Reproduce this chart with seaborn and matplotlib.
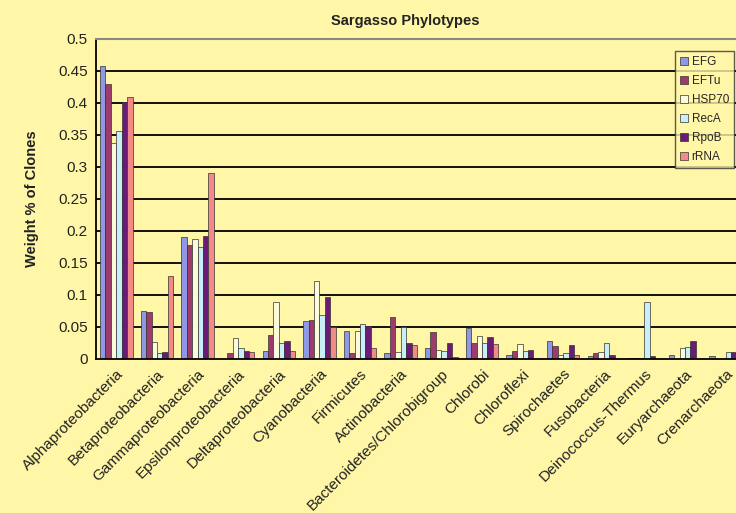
import matplotlib
matplotlib.use("Agg")
import matplotlib.pyplot as plt
import numpy as np
import pandas as pd
import seaborn as sns

# values (fraction of clones)
phyla = ["Alphaproteobacteria", "Betaproteobacteria", "Gammaproteobacteria",
         "Epsilonproteobacteria", "Deltaproteobacteria", "Cyanobacteria",
         "Firmicutes", "Actinobacteria", "Bacteroidetes/Chlorobigroup",
         "Chlorobi", "Chloroflexi", "Spirochaetes", "Fusobacteria",
         "Deinococcus-Thermus", "Euryarchaeota", "Crenarchaeota"]
genes = ["EFG", "EFTu", "HSP70", "RecA", "RpoB", "rRNA"]

EFG = [0.458, 0.075, 0.190, 0.0, 0.012, 0.059, 0.043, 0.008,
       0.017, 0.048, 0.0055, 0.027, 0.004, 0.001, 0.0055, 0.004]
EFTu = [0.430, 0.073, 0.178, 0.0085, 0.037, 0.061, 0.008, 0.065,
        0.041, 0.025, 0.012, 0.0195, 0.008, 0.001, 0.0, 0.0]
HSP70 = [0.337, 0.026, 0.187, 0.032, 0.089, 0.122, 0.043, 0.010,
         0.014, 0.0355, 0.022, 0.0055, 0.0106, 0.001, 0.017, 0.0]
RecA = [0.356, 0.008, 0.174, 0.017, 0.024, 0.068, 0.054, 0.050,
        0.0117, 0.025, 0.0117, 0.008, 0.025, 0.0885, 0.018, 0.0097]
RpoB = [0.402, 0.0097, 0.192, 0.012, 0.028, 0.096, 0.051, 0.025,
        0.0237, 0.034, 0.014, 0.021, 0.0055, 0.004, 0.028, 0.0097]
rRNA = [0.410, 0.129, 0.290, 0.010, 0.011, 0.0486, 0.017, 0.0215,
        0.003, 0.0226, 0.0, 0.0055, 0.0, 0.0, 0.0, 0.0]

yTicks = [0, 0.05, 0.1, 0.15, 0.2, 0.25, 0.3, 0.35, 0.4, 0.45, 0.5]
yTickLabels = ["0", "0.05", "0.1", "0.15", "0.2", "0.25", "0.3", "0.35", "0.4", "0.45", "0.5"]

colors = ["#8f98e6", "#9e3a6c", "#fbfbdc", "#c8eef8", "#6c1a78", "#f28a88"]
bg = "#fff6a8"

series = dict(zip(genes, [EFG, EFTu, HSP70, RecA, RpoB, rRNA]))
df = pd.DataFrame({"Phylum": phyla, **series}).melt(
    id_vars="Phylum", var_name="Gene", value_name="Weight")

sns.set_style("white")
plt.rcParams["font.family"] = ["Liberation Sans", "DejaVu Sans"]

fig = plt.figure(figsize=(7.36, 5.13), dpi=100, facecolor=bg)
# right edge of the plot is cut off in the reference, so the axes runs past the figure
ax = fig.add_axes([96 / 736, 154.5 / 513, 650 / 736, 319.5 / 513])
ax.set_facecolor(bg)

sns.barplot(data=df, x="Phylum", y="Weight", hue="Gene", order=phyla,
            hue_order=genes, palette=colors, width=0.8, ax=ax,
            edgecolor="#333333", linewidth=0.5, saturation=1)

ax.set_ylim(0, 0.5)
ax.set_xlim(-0.5, len(phyla) - 0.5)
ax.set_yticks(yTicks)
ax.set_yticklabels(yTickLabels, fontsize=11, color="#222222")
for y in yTicks[1:]:
    ax.axhline(y, color="#111111", lw=1.4, zorder=0)

ax.set_xticks(np.arange(len(phyla)))
ax.set_xticklabels(phyla, rotation=45, ha="right", rotation_mode="anchor",
                   fontsize=11, color="#222222")
ax.set_xticks(np.arange(-0.5, len(phyla), 1), minor=True)
ax.tick_params(axis="x", which="major", length=0, pad=6)
ax.tick_params(axis="x", which="minor", length=4, width=1.2, direction="out", color="black")
ax.tick_params(axis="y", length=4, width=1.2, direction="out", color="black", pad=2)

ax.set_xlabel("")
ax.set_ylabel("Weight % of Clones", fontsize=10.5, fontweight="bold", labelpad=14,
              color="#222222")

for side in ["left", "bottom"]:
    ax.spines[side].set_color("black")
    ax.spines[side].set_linewidth(1.3)
ax.spines["top"].set_color("#888888")
ax.spines["top"].set_linewidth(1.5)
ax.spines["right"].set_visible(False)

fig.text(405 / 736, 1 - 21 / 513, "Sargasso Phylotypes", ha="center", va="center",
         fontsize=10.5, fontweight="bold", color="#222222")

leg = ax.legend(loc="upper right", bbox_to_anchor=(0.981, 0.962), fontsize=8.5,
                frameon=True, fancybox=False, handlelength=0.7, handleheight=0.7,
                handletextpad=0.3, labelspacing=0.6, borderpad=0.4,
                borderaxespad=0)
leg.get_frame().set_facecolor(bg)
leg.get_frame().set_edgecolor("#333333")
leg.get_frame().set_linewidth(1.0)

fig.savefig("out.png", dpi=100, facecolor=bg)
